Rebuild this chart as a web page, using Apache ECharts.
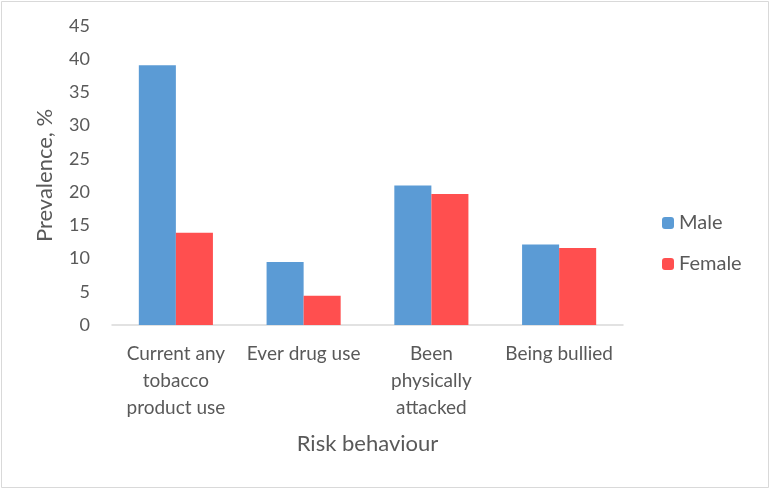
<!DOCTYPE html>
<html><head><meta charset="utf-8">
<script src="https://cdn.jsdelivr.net/npm/echarts@6/dist/echarts.min.js"></script>
<style>html,body{margin:0;padding:0;background:#fff}#c{width:771px;height:490px;box-sizing:border-box;}</style>
</head><body><div id="c"></div>
<script>
var categories = ['Current any\ntobacco\nproduct use', 'Ever drug use', 'Been\nphysically\nattacked', 'Being bullied'];
var male = [39.1, 9.5, 21.0, 12.1];
var female = [13.9, 4.4, 19.7, 11.6];
var yTicks = [0, 5, 10, 15, 20, 25, 30, 35, 40, 45];

var chart = echarts.init(document.getElementById('c'), null, {renderer: 'canvas'});
var font = 'Lato, "Open Sans", sans-serif';
chart.setOption({
  animation: false,
  backgroundColor: '#fff',
  graphic: [{type: 'rect', shape: {x: 1.5, y: 1.5, width: 767, height: 486}, style: {fill: 'none', stroke: '#d9d9d9', lineWidth: 1}}],
  grid: {left: 112, right: 148, top: 26, bottom: 165},
  legend: {
    orient: 'vertical', left: 657, top: 208, itemWidth: 12, itemHeight: 12, itemGap: 21,
    textStyle: {color: '#595959', fontSize: 20, fontFamily: font},
    data: ['Male', 'Female']
  },
  xAxis: {
    type: 'category', data: categories,
    name: 'Risk behaviour', nameLocation: 'middle', nameGap: 108,
    nameTextStyle: {color: '#595959', fontSize: 22, fontFamily: font},
    axisLine: {lineStyle: {color: '#d9d9d9', width: 1.5}},
    axisTick: {show: false},
    axisLabel: {color: '#595959', fontSize: 19, fontFamily: font, lineHeight: 27, margin: 15, interval: 0}
  },
  yAxis: {
    type: 'value', min: yTicks[0], max: yTicks[yTicks.length - 1], interval: 5,
    name: 'Prevalence, %', nameLocation: 'middle', nameGap: 56,
    nameTextStyle: {color: '#595959', fontSize: 22, fontFamily: font},
    splitLine: {show: false},
    axisLine: {show: false}, axisTick: {show: false},
    axisLabel: {color: '#595959', fontSize: 18, fontFamily: font, margin: 22}
  },
  series: [
    {name: 'Male', type: 'bar', data: male, barGap: '0%', barCategoryGap: '42%', itemStyle: {color: '#5B9BD5'}},
    {name: 'Female', type: 'bar', data: female, barGap: '0%', barCategoryGap: '42%', itemStyle: {color: '#FF4F4F'}}
  ]
});
</script></body></html>
